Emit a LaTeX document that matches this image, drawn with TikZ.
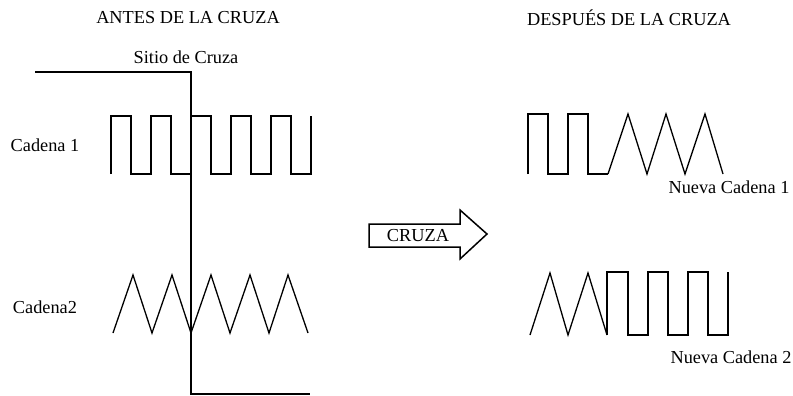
\documentclass[tikz,border=0pt]{standalone}
\usepackage{fontspec}
\setmainfont{Liberation Serif}
\begin{document}
\begin{tikzpicture}[x=1pt,y=-1pt,
  wave/.style={line width=1.5pt, line join=miter},
  tri/.style={line width=1.3pt, line join=miter},
  lbl/.style={font=\fontsize{18.3}{20}\selectfont, inner sep=0pt}]
\useasboundingbox (0,0) rectangle (793,396);
% titles and labels
\node[lbl] (antes) at (188,18) {ANTES DE LA CRUZA};
\node[lbl] (despues) at (629,18) {DESPUÉS DE LA CRUZA};
\node[lbl] (sitio) at (186,57) {Sitio de Cruza};
\node[lbl] (c1) at (45,145) {Cadena 1};
\node[lbl] (c2) at (45,307) {Cadena2};
\node[lbl] (n1) at (729,187) {Nueva Cadena 1};
\node[lbl] (n2) at (731,357) {Nueva Cadena 2};
% crossing site line
\draw[wave] (35,72) -- (191,72) -- (191,394) -- (310,394);
% Cadena 1 (square wave)
\draw[wave] (111,174)--(111,116)--(131,116)--(131,174)--(151,174)--(151,116)--(171,116)--(171,174)--(191,174)--(191,116)--(211,116)--(211,174)--(231,174)--(231,116)--(251,116)--(251,174)--(271,174)--(271,116)--(291,116)--(291,174)--(311,174)--(311,116);
% Cadena 2 (triangle wave)
\draw[tri] (113,333)--(133,275)--(152,333)--(172,275)--(191,333)--(211,275)--(230,333)--(250,275)--(269,333)--(288,275)--(308,333);
% arrow
\draw[wave] (369,224)--(460,224)--(460,210)--(487,234)--(460,259)--(460,247)--(369,247)--cycle;
\node[lbl] (cruza) at (418,236) {CRUZA};
% Nueva Cadena 1
\draw[wave] (528,174)--(528,114)--(548,114)--(548,174)--(568,174)--(568,114)--(588,114)--(588,174)--(608,174);
\draw[tri] (608,174)--(628,114)--(647,174)--(666,114)--(685,174)--(705,114)--(723,174);
% Nueva Cadena 2
\draw[tri] (530,335)--(550,273)--(568,335)--(588,273)--(607,335);
\draw[wave] (607,335)--(607,272)--(628,272)--(628,335)--(648,335)--(648,272)--(668,272)--(668,335)--(688,335)--(688,272)--(708,272)--(708,335)--(728,335)--(728,272);
\end{tikzpicture}
\end{document}
